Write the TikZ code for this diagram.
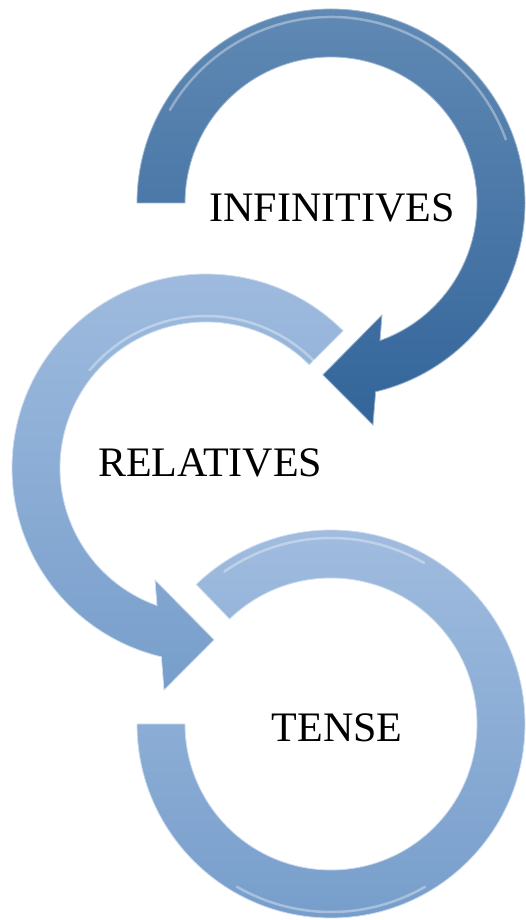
\documentclass[tikz,border=0pt]{standalone}
\usepackage{fontspec}
\setmainfont{Liberation Serif}
\begin{document}
\begin{tikzpicture}[x=1pt,y=1pt]
\definecolor{darkT}{HTML}{6089B4}
\definecolor{darkB}{HTML}{33659A}
\definecolor{lightT}{HTML}{A0BCDF}
\definecolor{lightB}{HTML}{779ECB}
\tikzset{
  darkring/.style={top color=darkT, bottom color=darkB, draw=darkT!60!white, line width=0.8pt},
  lightring/.style={top color=lightT, bottom color=lightB, draw=lightT!50!white, line width=0.8pt},
  gloss/.style={draw=white, opacity=0.35, line width=2.5pt, line cap=round},
  label/.style={font=\fontsize{42}{50}\selectfont, inner sep=0pt, anchor=base, text=black}
}
\useasboundingbox (0,0) rectangle (525,920);
% ring 1 (dark), center (331,717)
\shade[darkring]
  ([shift={(331,717)}]180:194) arc[start angle=180, end angle=-76.7, radius=194]
  -- ([shift={(331,717)}]-79.3:226)
  -- ([shift={(331,717)}]-92.7:172)
  -- ([shift={(331,717)}]-65.5:123)
  -- ([shift={(331,717)}]-70.4:146)
  arc[start angle=-70.4, end angle=180, radius=146] -- cycle;
\draw[gloss] ([shift={(331,717)}]150:186) arc[start angle=150, end angle=20, radius=186];
% ring 2 (light), center (206,452)
\shade[lightring]
  ([shift={(206,452)}]45:194) arc[start angle=45, end angle=256.7, radius=194]
  -- ([shift={(206,452)}]259.3:226)
  -- ([shift={(206,452)}]272.7:172)
  -- ([shift={(206,452)}]245.5:123)
  -- ([shift={(206,452)}]250.4:146)
  arc[start angle=250.4, end angle=45, radius=146] -- cycle;
\draw[gloss] ([shift={(206,452)}]40:152) arc[start angle=40, end angle=140, radius=152];
% ring 3 (light), center (331,196)
\shade[lightring]
  ([shift={(331,196)}]180:194) arc[start angle=180, end angle=494, radius=194]
  -- ([shift={(331,196)}]494:146)
  arc[start angle=494, end angle=180, radius=146] -- cycle;
\draw[gloss] ([shift={(331,196)}]60:186) arc[start angle=60, end angle=125, radius=186];
\draw[gloss] ([shift={(331,196)}]240:188) arc[start angle=240, end angle=300, radius=188];
% labels
\node[label] (inf) at (332,698) {INFINITIVES};
\node[label] (rel) at (210,443) {RELATIVES};
\node[label] (ten) at (337,178) {TENSE};
\end{tikzpicture}
\end{document}
